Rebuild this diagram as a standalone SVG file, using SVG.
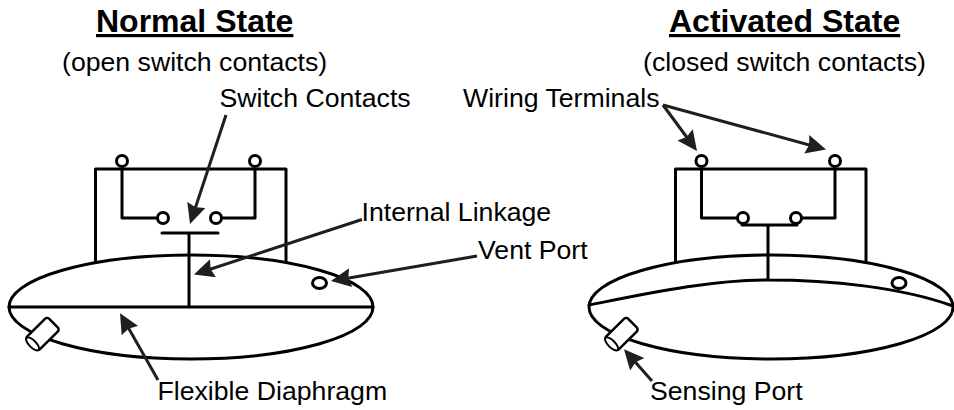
<svg xmlns="http://www.w3.org/2000/svg" width="954" height="410" viewBox="0 0 954 410">
<defs>
<marker id="ah" markerUnits="userSpaceOnUse" markerWidth="24" markerHeight="22" refX="15" refY="11" orient="auto"><path d="M0 1.500 L20 11 L0 20.500 L2.500 11 Z" fill="#1f1f1f"/></marker>
<g id="port"><rect x="-15.500" y="-9" width="31" height="18" rx="3" fill="#fff" stroke="#000" stroke-width="2.500"/><ellipse cx="-14" cy="0" rx="3.500" ry="8.500" fill="#fff" stroke="#000" stroke-width="2"/></g>
</defs>
<style>
.l{fill:none;stroke:#000;stroke-width:3;stroke-linejoin:round;stroke-linecap:round}
.c{fill:#fff;stroke:#000;stroke-width:3}
.a{fill:none;stroke:#1f1f1f;stroke-width:3;marker-end:url(#ah)}
text{font-family:"Liberation Sans",Arial,sans-serif;font-size:26.670px;fill:#000}
.h{font-size:32px;font-weight:bold;text-decoration:underline}
</style>
<g id="normal-state">
<path class="l" d="M95.500 262V169H286V262"/>
<ellipse class="l" cx="191" cy="307" rx="182" ry="52"/>
<path class="l" d="M9 307H373M189 233V307M162 233H218M122 169V218H157M255 169V218H222"/>
<circle class="c" cx="122" cy="161" r="5.500"/><circle class="c" cx="255" cy="161" r="5.500"/>
<circle class="c" cx="163" cy="218" r="5.500"/><circle class="c" cx="216" cy="218" r="5.500"/>
<ellipse class="c" cx="319.500" cy="283" rx="7" ry="5.500"/>
<use href="#port" transform="translate(42.500 334) rotate(-45)"/>
</g>
<g id="activated-state">
<path class="l" d="M675.500 262V169H866V262"/>
<ellipse class="l" cx="771" cy="307" rx="182" ry="52"/>
<path class="l" d="M589 305C650 293 710 280 768 280C830 280 900 287 953 306M768 225V280M742 225H797M701.500 169V218H737M835 169V218H802"/>
<circle class="c" cx="701.500" cy="161" r="5.500"/><circle class="c" cx="835" cy="161" r="5.500"/>
<circle class="c" cx="743" cy="218" r="5.500"/><circle class="c" cx="796" cy="218" r="5.500"/>
<ellipse class="c" cx="899" cy="283" rx="7" ry="5.500"/>
<use href="#port" transform="translate(621.500 334) rotate(-45)"/>
</g>
<g id="connectors">
<path class="a" d="M226 115L191.600 219.200"/>
<path class="a" d="M362 219.500L198.700 273"/>
<path class="a" d="M477 256L335.900 280.200"/>
<path class="a" d="M158 380L122.500 317.600"/>
<path class="a" d="M652 381L627.300 353"/>
<path class="a" d="M663 105L694 147"/>
<path class="a" d="M663 105L821.200 148.200"/>
</g>
<g id="labels">
<text class="h" x="96" y="32">Normal State</text>
<text class="h" x="669" y="32">Activated State</text>
<text x="62" y="71">(open switch contacts)</text>
<text x="643" y="71">(closed switch contacts)</text>
<text x="219.500" y="107">Switch Contacts</text>
<text x="463" y="107">Wiring Terminals</text>
<text x="361.500" y="221">Internal Linkage</text>
<text x="478" y="259">Vent Port</text>
<text x="157.500" y="400">Flexible Diaphragm</text>
<text x="650" y="400">Sensing Port</text>
</g>
</svg>
